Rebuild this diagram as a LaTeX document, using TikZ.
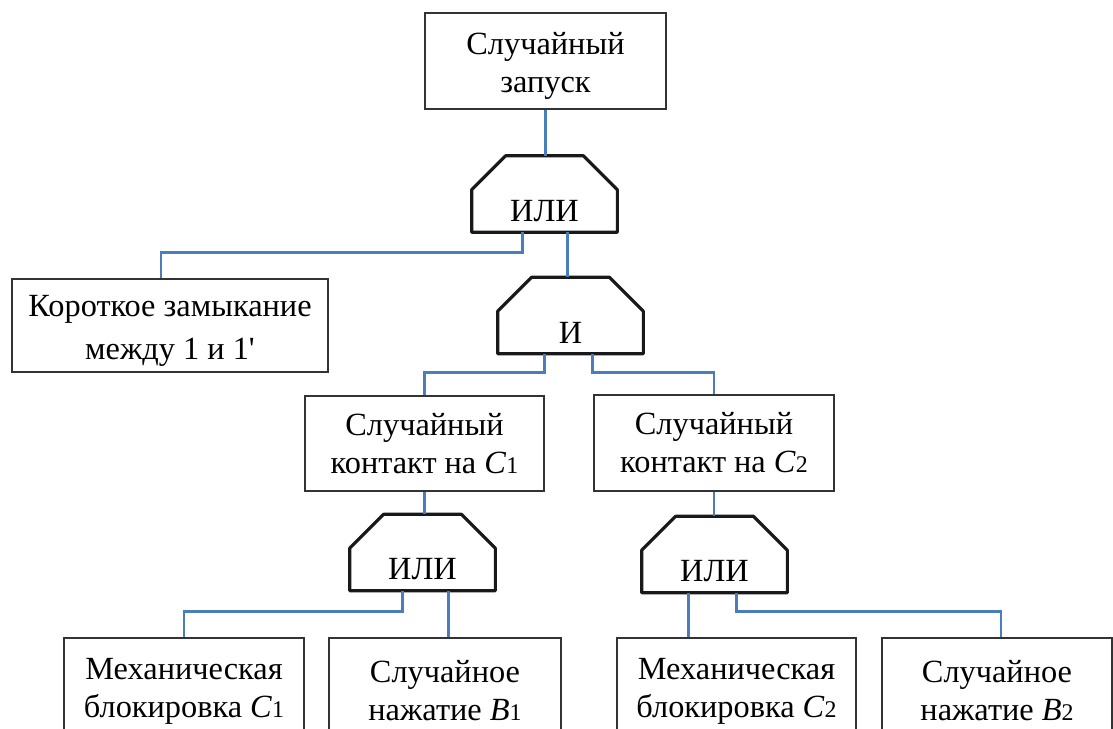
\documentclass[tikz,border=0pt]{standalone}
\usepackage{fontspec}
\setmainfont{Liberation Serif}
\usetikzlibrary{calc}
\newcommand{\idx}[1]{{\fontsize{17}{17}\selectfont #1}}
\newcommand{\lowstrut}{\rule{0pt}{0.8cm}}
\definecolor{wireblue}{RGB}{74,126,187}

\begin{document}
\begin{tikzpicture}[x=0.025cm,y=-0.025cm,
  font=\fontsize{23}{27}\selectfont,
  box/.style={shape=rectangle,draw=black!80,line width=0.8pt,align=center,inner sep=0pt},
  gate/.style={shape=rectangle,minimum width=3.625cm,minimum height=1.05cm,inner sep=0pt},
  wire/.style={draw=wireblue,line width=2pt}]
\clip (0,0) rectangle (1113,729);
\useasboundingbox (0,0) rectangle (1113,729);

\node[box,minimum width=6.025cm,minimum height=2.4cm] (top) at (545.5,61) {\lowstrut Случайный\\запуск};
\node[gate] (or1) at (544.5,211) {ИЛИ};
\node[box,minimum width=7.9cm,minimum height=2.325cm] (short) at (170,325.5) {\lowstrut Короткое замыкание\\[0.12cm]между 1 и 1\textquotesingle};
\node[gate] (and) at (570.5,332.5) {И};
\node[box,minimum width=5.975cm,minimum height=2.375cm] (c1) at (424.5,443.5) {Случайный\\контакт на \textit{C}\idx{1}};
\node[box,minimum width=6cm,minimum height=2.4cm] (c2) at (714,443) {Случайный\\контакт на \textit{C}\idx{2}};
\node[gate] (or2) at (422.5,569.5) {ИЛИ};
\node[gate] (or3) at (714.5,571.5) {ИЛИ};
\node[box,minimum width=6cm,minimum height=2.4cm] (m1) at (184,686) {\lowstrut Механическая\\блокировка \textit{C}\idx{1}};
\node[box,minimum width=5.8cm,minimum height=2.4cm] (b1) at (445,686) {\lowstrut Случайное\\нажатие \textit{B}\idx{1}};
\node[box,minimum width=5.975cm,minimum height=2.4cm] (m2) at (736.5,686) {\lowstrut Механическая\\блокировка \textit{C}\idx{2}};
\node[box,minimum width=5.75cm,minimum height=2.4cm] (b2) at (997,686) {\lowstrut Случайное\\нажатие \textit{B}\idx{2}};

% gate outlines, chamfered top corners
\foreach \g in {or1,and,or2,or3} {
  \draw[line width=2.2pt,draw=black!90,line join=round] (\g.south west) -- (\g.north west)
    -- ($(\g.north west)+(34,-34)$) -- ($(\g.north east)+(-34,-34)$)
    -- (\g.north east) -- (\g.south east) -- cycle;
  \coordinate (\g-top) at ($(\g.north)+(0,-34)$);
}

\coordinate (o1l) at ($(or1.south)+(-22,0)$);
\coordinate (o1r) at ($(or1.south)+(23,0)$);
\coordinate (al) at ($(and.south)+(-26,0)$);
\coordinate (ar) at ($(and.south)+(22,0)$);
\coordinate (o2l) at ($(or2.south)+(-20,0)$);
\coordinate (o2r) at ($(or2.south)+(26,0)$);
\coordinate (o3l) at ($(or3.south)+(-26,0)$);
\coordinate (o3r) at ($(or3.south)+(22,0)$);

\path[wire] (top.south) -- (top.south |- or1-top);
\path[wire] (o1l) -- ++(0,20) -| ($(short.north)+(-9,0)$);
\path[wire] (o1r) -- (o1r |- and-top);
\path[wire] (al) -- ++(0,19) -| (c1.north);
\path[wire] (ar) -- ++(0,19) -| (c2.north);
\path[wire] (c1.south) -- (c1.south |- or2-top);
\path[wire] (c2.south) -- (c2.south |- or3-top);
\path[wire] (o2l) -- ++(0,21) -| (m1.north);
\path[wire] (o2r) -- (o2r |- b1.north);
\path[wire] (o3l) -- (o3l |- m2.north);
\path[wire] (o3r) -- ++(0,19) -| ($(b2.north)+(4,0)$);
\end{tikzpicture}
\end{document}
